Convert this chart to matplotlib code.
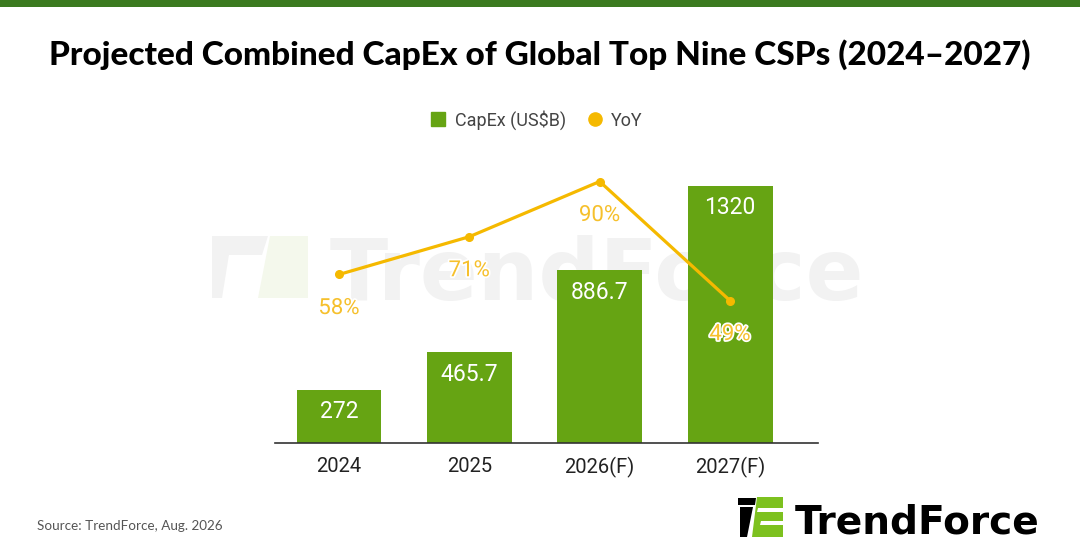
import matplotlib
matplotlib.use("Agg")
import matplotlib.pyplot as plt
import matplotlib.patheffects as pe
from matplotlib.patches import Polygon, Rectangle
from matplotlib.lines import Line2D

# ---- data ----
categories = ["2024", "2025", "2026(F)", "2027(F)"]
capex = [272, 465.7, 886.7, 1320]
capex_labels = ["272", "465.7", "886.7", "1320"]
yoy = [58, 71, 90, 49]
yoy_labels = ["58%", "71%", "90%", "49%"]

title = "Projected Combined CapEx of Global Top Nine CSPs (2024\u20132027)"
source = "Source: TrendForce, Aug. 2026"

BAR = "#66a413"
LINE = "#f5b900"
LABEL_Y = "#f6c02c"
TOPBAND = "#3b7a1f"

W, H = 1080, 560
fig = plt.figure(figsize=(W / 100, H / 100), dpi=100)
fig.patch.set_facecolor("white")


def P(x, y):
    return (x / W, 1 - y / H)


def fit_text(t, target_w):
    r = fig.canvas.get_renderer()
    w = t.get_window_extent(r).width
    t.set_fontsize(t.get_fontsize() * target_w / w)


# top band
fig.patches.append(Rectangle(P(0, 7), 1, 7 / H, transform=fig.transFigure,
                             facecolor=TOPBAND, edgecolor="none", zorder=5))

# title
tt = fig.text(0.5, 1 - 55 / H, title, ha="center", va="center",
              family=["Lato", "DejaVu Sans"], fontweight="black", fontsize=22,
              color="black")
fit_text(tt, 980)

# watermark
wm_gray = "#f2f2f2"
wm_green = "#f4f8ec"
fig.patches.append(Polygon([P(222, 236), P(268, 236), P(262, 255), P(228, 255)],
                           closed=True, transform=fig.transFigure,
                           facecolor=wm_gray, edgecolor="none", zorder=-2))
fig.patches.append(Polygon([P(212, 236), P(232, 236), P(222, 298), P(212, 298)],
                           closed=True, transform=fig.transFigure,
                           facecolor=wm_gray, edgecolor="none", zorder=-2))
fig.patches.append(Polygon([P(270, 236), P(308, 236), P(308, 298), P(258, 298)],
                           closed=True, transform=fig.transFigure,
                           facecolor=wm_green, edgecolor="none", zorder=-2))
wt = fig.text(330 / W, 1 - 300 / H, "TrendForce", ha="left", va="baseline",
              family="DejaVu Sans", fontweight="bold", fontsize=55, color=wm_gray,
              zorder=-1)
fit_text(wt, 535)

# axes
left, right, bottom, top = 275, 818, 443, 160
ax = fig.add_axes([left / W, 1 - bottom / H, (right - left) / W, (bottom - top) / H])
ax.patch.set_alpha(0)
x = list(range(len(categories)))
ax.bar(x, capex, width=0.652, color=BAR, zorder=2)
ax.set_xlim(-0.491, 3.675)
ax.set_ylim(0, 1453.5)
for xi, v, lab in zip(x, capex, capex_labels):
    ax.annotate(lab, (xi, v), xytext=(0, -15.8), textcoords="offset points",
                ha="center", va="center", color="white", fontsize=16.5,
                family="Roboto", zorder=4)
ax.set_xticks(x)
ax.set_xticklabels(categories, family="Roboto", fontsize=14.5, color="#222222")
ax.tick_params(axis="x", length=0, pad=10)
ax.set_yticks([])
for s in ["top", "left", "right"]:
    ax.spines[s].set_visible(False)
ax.spines["bottom"].set_color("#333333")
ax.spines["bottom"].set_linewidth(1.2)

ax2 = ax.twinx()
ax2.set_ylim(0, 97.4)
ax2.plot(x, yoy, color=LINE, linewidth=2.3, marker="o", markersize=5.5,
         zorder=3)
for xi, v, lab in zip(x, yoy, yoy_labels):
    ax2.annotate(lab, (xi, v), xytext=(0, -24.5), textcoords="offset points",
                 ha="center", va="center", color=LABEL_Y, fontsize=16,
                 family="Roboto", zorder=5,
                 path_effects=[pe.withStroke(linewidth=2.5, foreground="white")])
ax2.set_yticks([])
for s in ["top", "left", "right", "bottom"]:
    ax2.spines[s].set_visible(False)

# legend
handles = [Line2D([], [], marker="s", linestyle="none", color=BAR, markersize=9.5),
           Line2D([], [], marker="o", linestyle="none", color=LINE, markersize=9.5)]
fig.legend(handles, ["CapEx (US$B)", "YoY"], loc="center",
           bbox_to_anchor=P(536, 120), ncol=2, frameon=False,
           prop={"family": "Roboto", "size": 13}, labelcolor="#444444",
           handletextpad=0.4, columnspacing=1.1, handlelength=1.0)

# source
fig.text(37 / W, 1 - 526 / H, source, ha="left", va="center",
         family="Lato", fontsize=9.7, color="#555555")

# bottom-right logo
fig.patches.append(Polygon([P(738, 498), P(756, 498), P(755, 505), P(738, 505)],
                           closed=True, transform=fig.transFigure,
                           facecolor="black", edgecolor="none", zorder=3))
fig.patches.append(Polygon([P(740, 507), P(753, 507), P(747, 537), P(740, 537)],
                           closed=True, transform=fig.transFigure,
                           facecolor="black", edgecolor="none", zorder=3))
fig.patches.append(Polygon([P(757, 497), P(783, 497), P(783, 537), P(752, 537)],
                           closed=True, transform=fig.transFigure,
                           facecolor="#7dc11f", edgecolor="none", zorder=3))
fig.patches.append(Polygon([P(758, 508), P(783, 508), P(783, 512), P(757, 512)],
                           closed=True, transform=fig.transFigure,
                           facecolor="white", edgecolor="none", zorder=4))
fig.patches.append(Polygon([P(761, 521), P(783, 521), P(783, 525), P(760, 525)],
                           closed=True, transform=fig.transFigure,
                           facecolor="white", edgecolor="none", zorder=4))
lt = fig.text(795 / W, 1 - 534 / H, "TrendForce", ha="left", va="baseline",
              family="DejaVu Sans", fontweight="bold", fontsize=30, color="black")
fit_text(lt, 245)

fig.savefig("out.png", dpi=100, facecolor="white")
